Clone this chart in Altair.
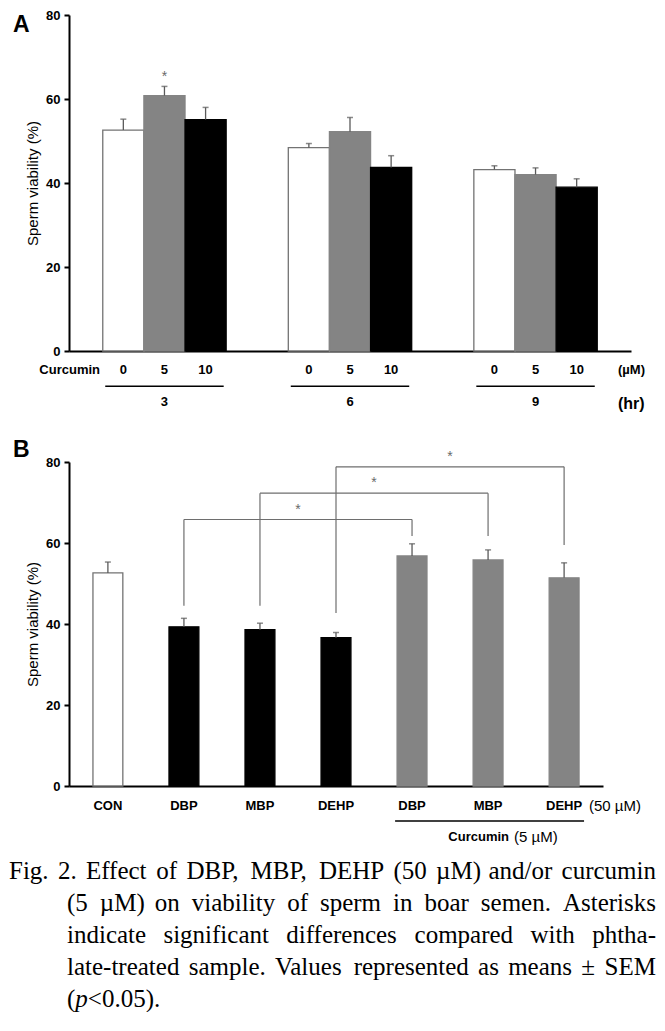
import altair as alt
import pandas as pd

# ---------------- data ----------------
# Panel A : time (hr) x curcumin dose (uM)
times = ["3", "6", "9"]
doses = ["0", "5", "10"]
a_time = ["3", "3", "3", "6", "6", "6", "9", "9", "9"]
a_dose = ["0", "5", "10", "0", "5", "10", "0", "5", "10"]
a_mean = [52.6, 60.8, 55.1, 48.4, 52.2, 43.7, 43.2, 42.0, 39.0]
a_sem = [2.6, 2.2, 2.9, 1.0, 3.4, 2.8, 0.9, 1.6, 2.0]
a_sig = ["", "*", "", "", "", "", "", "", ""]

# Panel B : phthalates with / without curcumin
b_id = ["CON", "DBP", "MBP", "DEHP", "DBP+Cur", "MBP+Cur", "DEHP+Cur"]
b_label = ["CON", "DBP", "MBP", "DEHP", "DBP", "MBP", "DEHP"]
b_group = ["Control", "Phthalate", "Phthalate", "Phthalate", "Curcumin", "Curcumin", "Curcumin"]
b_mean = [52.6, 39.3, 38.6, 36.6, 56.8, 55.8, 51.4]
b_sem = [2.7, 2.1, 1.6, 1.3, 3.0, 2.5, 3.7]

# significance brackets in panel B
br_from = ["DBP", "MBP", "DEHP"]
br_to = ["DBP+Cur", "MBP+Cur", "DEHP+Cur"]
br_level = [65.8, 72.3, 78.8]
br_from_end = [44.5, 44.5, 42.7]
br_to_end = [61.7, 61.7, 59.5]

caption_lines = [
    "Fig. 2. Effect of DBP, MBP, DEHP (50 \u00b5M) and/or curcumin",
    "(5 \u00b5M) on viability of sperm in boar semen. Asterisks",
    "indicate significant differences compared with phtha-",
    "late-treated sample. Values represented as means \u00b1 SEM",
]
caption_last = ["(", "p", "<0.05)."]
caption_last_italic = [False, True, False]

# ---------------- styling ----------------
SANS = "Liberation Sans"
SERIF = "Liberation Serif"
PLOT_LEFT = 68  # page x of the plot origin

ax_y = alt.Axis(values=[0, 20, 40, 60, 80], grid=False, tickSize=5, tickWidth=2,
                tickColor="black", domainColor="black", domainWidth=2,
                labelFont=SANS, labelFontSize=13, labelFontWeight="bold",
                labelColor="black", labelPadding=4,
                title="Sperm viability (%)", titleFont=SANS, titleFontSize=15,
                titleFontWeight="normal", titleColor="black", titlePadding=5)
ax_x = alt.Axis(title=None, labels=False, ticks=False, grid=False,
                domainColor="black", domainWidth=2)

one = pd.DataFrame({"k": [0]})


def label(text, x, y, size=13, weight="bold", align="left", font=SANS, color="black"):
    return alt.Chart(one).mark_text(text=text, font=font, fontSize=size, fontWeight=weight,
                                    align=align, baseline="middle", color=color).encode(
        x=alt.value(x), y=alt.value(y))


# ---------------- panel A ----------------
WA, HA = 562, 336
PI_A, PO_A = 0.335, 0.182


def XA():
    return alt.X("time:N", sort=times,
                 scale=alt.Scale(domain=times, paddingInner=PI_A, paddingOuter=PO_A), axis=ax_x)


def XOA():
    return alt.XOffset("dose:N", sort=doses,
                       scale=alt.Scale(domain=doses, paddingInner=0, paddingOuter=0))


def YA(f):
    return alt.Y(f"{f}:Q", scale=alt.Scale(domain=[0, 80], nice=False), axis=ax_y)


dfA = pd.DataFrame({"time": a_time, "dose": a_dose, "mean": a_mean, "sem": a_sem, "sig": a_sig})
baseA = alt.Chart(dfA).transform_calculate(upper="datum.mean + datum.sem")

barsA = baseA.mark_bar(strokeWidth=1.3).encode(
    x=XA(), xOffset=XOA(), y=YA("mean"),
    fill=alt.Fill("dose:N", scale=alt.Scale(domain=doses, range=["#ffffff", "#848484", "#000000"]), legend=None),
    stroke=alt.Stroke("dose:N", scale=alt.Scale(domain=doses, range=["#737373", "#848484", "#000000"]), legend=None),
)
errA = baseA.mark_rule(color="#5a5a5a", strokeWidth=1.3).encode(
    x=XA(), xOffset=XOA(), y=YA("mean"), y2="upper:Q")
capA = baseA.mark_tick(color="#5a5a5a", thickness=1.5, size=6).encode(
    x=XA(), xOffset=XOA(), y=YA("upper"))
starA = baseA.transform_filter("datum.sig != ''").mark_text(
    font=SANS, fontSize=14, color="#6a6a6a", dy=-9, baseline="middle").encode(
    x=XA(), xOffset=XOA(), y=YA("upper"), text="sig:N")
doseA = baseA.mark_text(font=SANS, fontSize=13, fontWeight="bold", color="black",
                        baseline="middle").encode(
    x=XA(), xOffset=XOA(), y=alt.value(HA + 19), text="dose:N")
dfT = pd.DataFrame({"time": times})
ulA = alt.Chart(dfT).mark_bar(color="black", width=alt.RelativeBandSize(0.96)).encode(
    x=XA(), y=alt.value(HA + 34.5), y2=alt.value(HA + 36))
timeA = alt.Chart(dfT).mark_text(font=SANS, fontSize=13, fontWeight="bold", color="black",
                                 baseline="middle").encode(
    x=XA(), y=alt.value(HA + 51), text="time:N")

panelA = alt.layer(
    barsA, errA, capA, starA, doseA, ulA, timeA,
    label("Curcumin", 31, HA + 19, align="right"),
    label("(\u00b5M)", 549, HA + 19, size=13),
    label("(hr)", 549, HA + 53, size=16),
    label("A", -56, 10, size=23),
).properties(width=WA, height=HA)

# ---------------- panel B ----------------
WB, HB = 534, 324
PI_B, PO_B = 0.607, 0.315
STEP_B = WB / (len(b_id) - PI_B + 2 * PO_B)
BW_B = STEP_B * (1 - PI_B)


def XB(field="id"):
    return alt.X(f"{field}:N", sort=b_id,
                 scale=alt.Scale(domain=b_id, paddingInner=PI_B, paddingOuter=PO_B), axis=ax_x)


def YB(f):
    return alt.Y(f"{f}:Q", scale=alt.Scale(domain=[0, 80], nice=False), axis=ax_y)


dfB = pd.DataFrame({"id": b_id, "label": b_label, "group": b_group, "mean": b_mean, "sem": b_sem})
baseB = alt.Chart(dfB).transform_calculate(upper="datum.mean + datum.sem")
groups = ["Control", "Phthalate", "Curcumin"]

barsB = baseB.mark_bar(strokeWidth=1.3).encode(
    x=XB(), y=YB("mean"),
    fill=alt.Fill("group:N", scale=alt.Scale(domain=groups, range=["#ffffff", "#000000", "#848484"]), legend=None),
    stroke=alt.Stroke("group:N", scale=alt.Scale(domain=groups, range=["#737373", "#000000", "#848484"]), legend=None),
)
errB = baseB.mark_rule(color="#5a5a5a", strokeWidth=1.3).encode(x=XB(), y=YB("mean"), y2="upper:Q")
capB = baseB.mark_tick(color="#5a5a5a", thickness=1.5, size=6).encode(x=XB(), y=YB("upper"))
lblB = baseB.mark_text(font=SANS, fontSize=13, fontWeight="bold", color="black",
                       baseline="middle").encode(x=XB(), y=alt.value(HB + 20), text="label:N")

dfBr = pd.DataFrame({"from": br_from, "to": br_to, "level": br_level,
                     "from_end": br_from_end, "to_end": br_to_end})
brc = "#6e6e6e"
brH = alt.Chart(dfBr).mark_rule(color=brc, strokeWidth=1.2).encode(
    x=XB("from"), x2="to:N", y=YB("level"))
brL = alt.Chart(dfBr).mark_rule(color=brc, strokeWidth=1.2).encode(
    x=XB("from"), y=YB("from_end"), y2="level:Q")
brR = alt.Chart(dfBr).mark_rule(color=brc, strokeWidth=1.2).encode(
    x=XB("to"), y=YB("to_end"), y2="level:Q")
brS = alt.Chart(dfBr).mark_text(text="*", font=SANS, fontSize=14, color="#6a6a6a",
                                dx=1.5 * STEP_B, dy=-10, baseline="middle").encode(
    x=XB("from"), y=YB("level"))

ul_x1 = STEP_B * (PO_B + 4) - 2
ul_x2 = STEP_B * (PO_B + 6) + BW_B + 5
ulB = alt.Chart(one).mark_rule(color="black", strokeWidth=1.5).encode(
    x=alt.value(ul_x1), x2=alt.value(ul_x2), y=alt.value(HB + 35))

panelB = alt.layer(
    barsB, errB, capB, brH, brL, brR, brS, lblB, ulB,
    label("(50 \u00b5M)", 520, HB + 20, size=15, weight="normal"),
    label("Curcumin", 440, HB + 51, align="right"),
    label("(5 \u00b5M)", 445, HB + 51, size=15, weight="normal"),
    label("B", -56, -12, size=23),
).properties(width=WB, height=HB)

# ---------------- caption (justified) ----------------
TW = {' ': 250, '(': 333, ')': 333, ',': 250, '-': 333, '.': 250, '/': 278, '<': 564,
      '\u00b1': 564, '\u00b5': 500, '\u03bc': 500}
for ch in "0123456789":
    TW[ch] = 500
TW.update(dict(zip("abcdefghijklmnopqrstuvwxyz",
                   [444, 500, 444, 500, 444, 333, 500, 500, 278, 278, 500, 278, 778, 500, 500,
                    500, 500, 333, 389, 278, 500, 500, 722, 500, 500, 444])))
TW.update(dict(zip("ABCDEFGHIJKLMNOPQRSTUVWXYZ",
                   [722, 667, 667, 722, 611, 556, 722, 722, 333, 389, 722, 611, 889, 722, 722,
                    556, 722, 667, 556, 611, 722, 722, 944, 722, 722, 611])))
FS = 25


def tw(s):
    return sum(TW.get(c, 500) for c in s) / 1000.0 * FS


CAP_TOP = 16 + HA + 111 + HB + 111  # page y of caption cell
line_y = [872, 904, 936, 968, 1000]
starts = [8, 66, 66, 66, 66]
RIGHT = 655
rows = []
for i, line in enumerate(caption_lines):
    words = line.split(" ")
    widths = [tw(w) for w in words]
    gap = (RIGHT - starts[i] - sum(widths)) / (len(words) - 1)
    x = starts[i]
    for w, wd in zip(words, widths):
        rows.append({"word": w, "x": x - PLOT_LEFT, "y": line_y[i] - CAP_TOP, "it": False})
        x += wd + gap
x = starts[4]
for seg, it in zip(caption_last, caption_last_italic):
    rows.append({"word": seg, "x": x - PLOT_LEFT, "y": line_y[4] - CAP_TOP, "it": it})
    x += tw(seg)
dfC = pd.DataFrame(rows)

capN = alt.Chart(dfC).transform_filter("!datum.it").mark_text(
    font=SERIF, fontSize=FS, align="left", baseline="middle", color="black").encode(
    x=alt.X("x:Q", scale=None, axis=None), y=alt.Y("y:Q", scale=None, axis=None), text="word:N")
capI = alt.Chart(dfC).transform_filter("datum.it").mark_text(
    font=SERIF, fontSize=FS, fontStyle="italic", align="left", baseline="middle", color="black").encode(
    x=alt.X("x:Q", scale=None, axis=None), y=alt.Y("y:Q", scale=None, axis=None), text="word:N")
caption = alt.layer(capN, capI).properties(width=WA, height=110)

chart = alt.vconcat(panelA, panelB, caption, spacing=111, bounds="flush").resolve_scale(
    fill="independent", stroke="independent").configure_view(
    stroke=None).properties(padding={"left": 1, "top": 1, "right": 0, "bottom": 0})

chart.save("out.html", embed_options={"renderer": "svg", "actions": False})
